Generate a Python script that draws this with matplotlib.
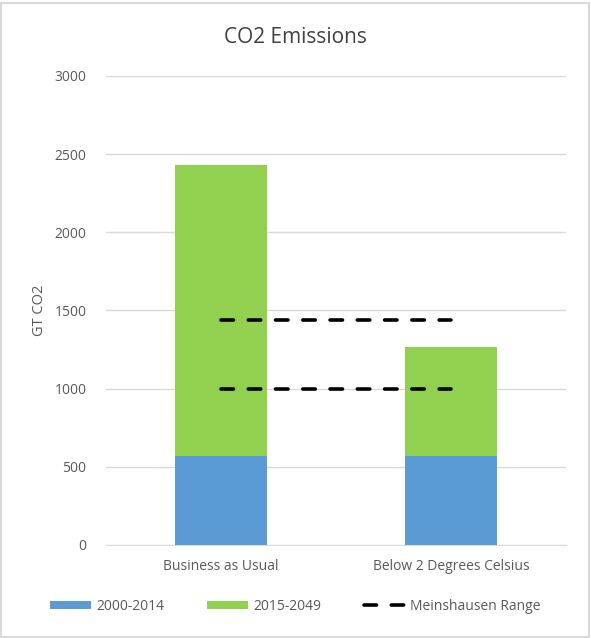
import matplotlib.pyplot as plt
from matplotlib.patches import Rectangle

categories = ['Business as Usual', 'Below 2 Degrees Celsius']
early = [570, 570]          # 2000-2014
later = [1860, 695]         # 2015-2049
range_high = [1440, 1440]   # Meinshausen Range
range_low = [1000, 1000]
yticks = [0, 500, 1000, 1500, 2000, 2500, 3000]

plt.rcParams['font.family'] = ['Open Sans', 'DejaVu Sans']
gray = '#595959'

fig = plt.figure(figsize=(5.91, 6.38), dpi=100)
ax = fig.add_axes([0.179, 0.146, 0.779, 0.735])

x = range(len(categories))
b1 = ax.bar(x, early, width=0.4, color='#5B9BD5', label='2000-2014', zorder=2)
b2 = ax.bar(x, later, width=0.4, bottom=early, color='#92D050', label='2015-2049', zorder=2)
l1, = ax.plot(x, range_high, color='black', lw=2.6, dashes=(3.45, 4.1),
              dash_capstyle='round', label='Meinshausen Range', zorder=3)
ax.plot(x, range_low, color='black', lw=2.6, dashes=(3.45, 4.1),
        dash_capstyle='round', zorder=3)

ax.set_xlim(-0.5, 1.5)
ax.set_ylim(0, 3000)
ax.set_yticks(yticks)
ax.set_xticks(list(x))
ax.set_xticklabels(categories)
ax.tick_params(axis='both', length=0, colors=gray, labelsize=10)
ax.tick_params(axis='y', pad=14)
ax.tick_params(axis='x', pad=10)
ax.grid(axis='y', color='#D9D9D9', lw=1, zorder=0)
for s in ['top', 'right', 'left']:
    ax.spines[s].set_visible(False)
ax.spines['bottom'].set_color('#D9D9D9')
ax.set_ylabel('GT CO2', color=gray, fontsize=10.5, labelpad=5)

fig.text(0.5, 0.942, 'CO2 Emissions', ha='center', va='center', fontsize=15, color='#404040')
fig.legend([b1, b2, l1], ['2000-2014', '2015-2049', 'Meinshausen Range'],
           loc='center', bbox_to_anchor=(0.5, 0.05), ncol=3, frameon=False,
           fontsize=10, labelcolor=gray, handlelength=2.9, columnspacing=3.1,
           handletextpad=0.4, handleheight=0.5)

fig.patches.append(Rectangle((0.002, 0.002), 0.994, 0.994, transform=fig.transFigure,
                             fill=False, edgecolor='#D9D9D9', lw=1.5))
fig.savefig('out.png', dpi=100)
